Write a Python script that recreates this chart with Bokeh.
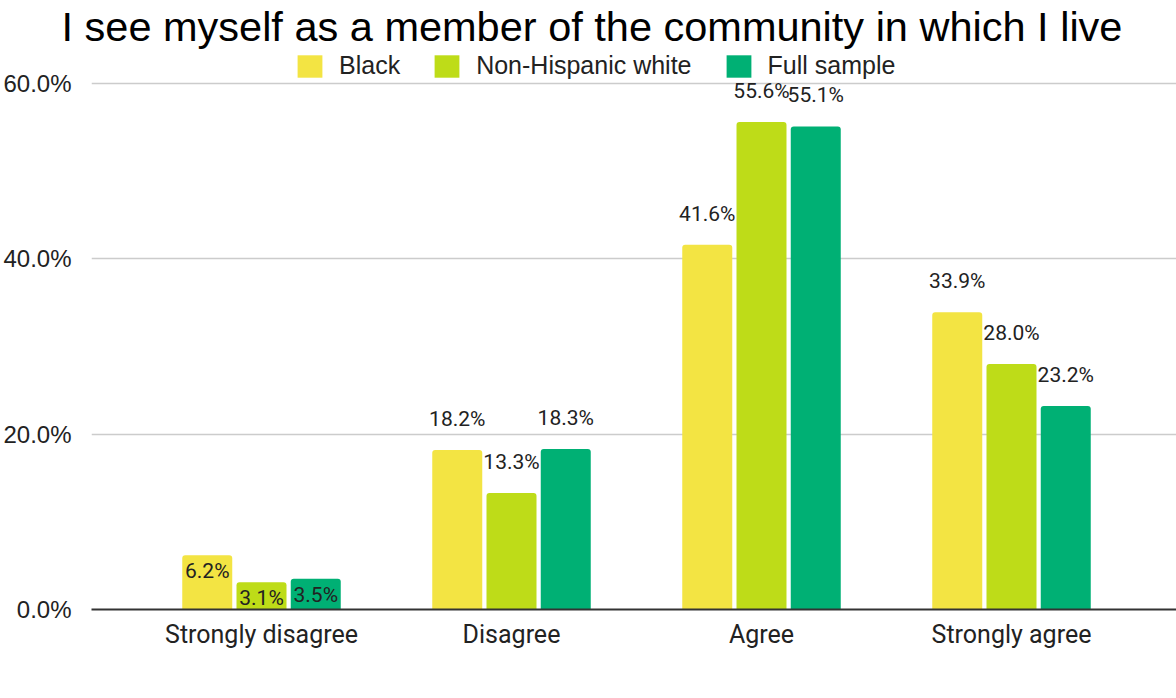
from bokeh.plotting import figure
from bokeh.models import (ColumnDataSource, Range1d, FixedTicker, PrintfTickFormatter,
                          Legend, LegendItem)
from bokeh.embed import file_html
from bokeh.resources import INLINE
from bokeh.core.properties import value

title_text = "I see myself as a member of the community in which I live"
categories = ["Strongly disagree", "Disagree", "Agree", "Strongly agree"]
series_names = ["Black", "Non-Hispanic white", "Full sample"]
black = [6.2, 18.2, 41.6, 33.9]
non_hispanic_white = [3.1, 13.3, 55.6, 28.0]
full_sample = [3.5, 18.3, 55.1, 23.2]
y_ticks = [0, 20, 40, 60]

series_values = [black, non_hispanic_white, full_sample]
colors = ["#F3E443", "#BEDC18", "#00B074"]
offsets = [-0.217, 0.0, 0.217]

p = figure(width=1176, height=698, frame_width=1088, frame_height=560,
           output_backend="svg", toolbar_location=None,
           x_range=Range1d(-0.68, 3.672), y_range=Range1d(0, 63.88),
           min_border_left=88, min_border_right=0, min_border_top=0,
           min_border_bottom=0, title=title_text)
p.outline_line_color = None
p.background_fill_color = "white"

p.title.text_font = "Liberation Sans"
p.title.text_font_size = "41.5px"
p.title.text_font_style = "normal"
p.title.text_color = "#000000"
p.title.align = "left"
p.title.offset = -30
p.title.standoff = 0
p.title.text_line_height = 0.75

# y axis
p.yaxis.ticker = FixedTicker(ticks=y_ticks)
p.yaxis.formatter = PrintfTickFormatter(format="%.1f%%")
p.yaxis.axis_line_color = None
p.yaxis.major_tick_line_color = None
p.yaxis.minor_tick_line_color = None
p.yaxis.major_label_text_font = "Liberation Sans"
p.yaxis.major_label_text_font_size = "24px"
p.yaxis.major_label_text_color = "#222222"
p.yaxis.major_label_standoff = 14

# x axis
p.xaxis.ticker = FixedTicker(ticks=list(range(len(categories))))
p.xaxis.major_label_overrides = {i: c for i, c in enumerate(categories)}
p.xaxis.axis_line_color = "#333333"
p.xaxis.axis_line_width = 2
p.xaxis.major_tick_line_color = None
p.xaxis.minor_tick_line_color = None
p.xaxis.major_label_text_font = "Roboto"
p.xaxis.major_label_text_font_size = "25px"
p.xaxis.major_label_text_color = "#222222"
p.xaxis.major_label_standoff = 4

p.xgrid.grid_line_color = None
p.ygrid.ticker = FixedTicker(ticks=y_ticks)
p.ygrid.grid_line_color = "#CCCCCC"
p.ygrid.grid_line_width = 1.5

items = []
lx, ly, lt, lo = [], [], [], []
for name, vals, color, off in zip(series_names, series_values, colors, offsets):
    xs = [k + off for k in range(len(categories))]
    src = ColumnDataSource(dict(x=xs, top=vals))
    r = p.vbar(x="x", top="top", width=0.2, source=src, fill_color=color,
               line_color=None, border_radius=(3, 3, 0, 0))
    items.append(LegendItem(label=name, renderers=[r]))
    for xv, v in zip(xs, vals):
        lx.append(xv)
        ly.append(v)
        lt.append(f"{v:.1f}%")
        lo.append(16 if v < 10 else -31)

lab_src = ColumnDataSource(dict(x=lx, y=ly, txt=lt, yoff=lo))
p.text(x="x", y="y", text="txt", y_offset="yoff", source=lab_src,
       text_align="center", text_baseline="middle",
       text_font=value("Roboto"), text_font_size="21px", text_color="#222222")

legend = Legend(items=items, orientation="horizontal", location=(203, 529),
                glyph_width=31, glyph_height=28, label_standoff=14, spacing=31,
                padding=0, margin=0, border_line_color=None,
                label_text_font="Liberation Sans", label_text_font_size="25px",
                label_text_color="#222222", background_fill_alpha=0)
p.add_layout(legend, "center")

open("out.html", "w").write(file_html(p, INLINE))
